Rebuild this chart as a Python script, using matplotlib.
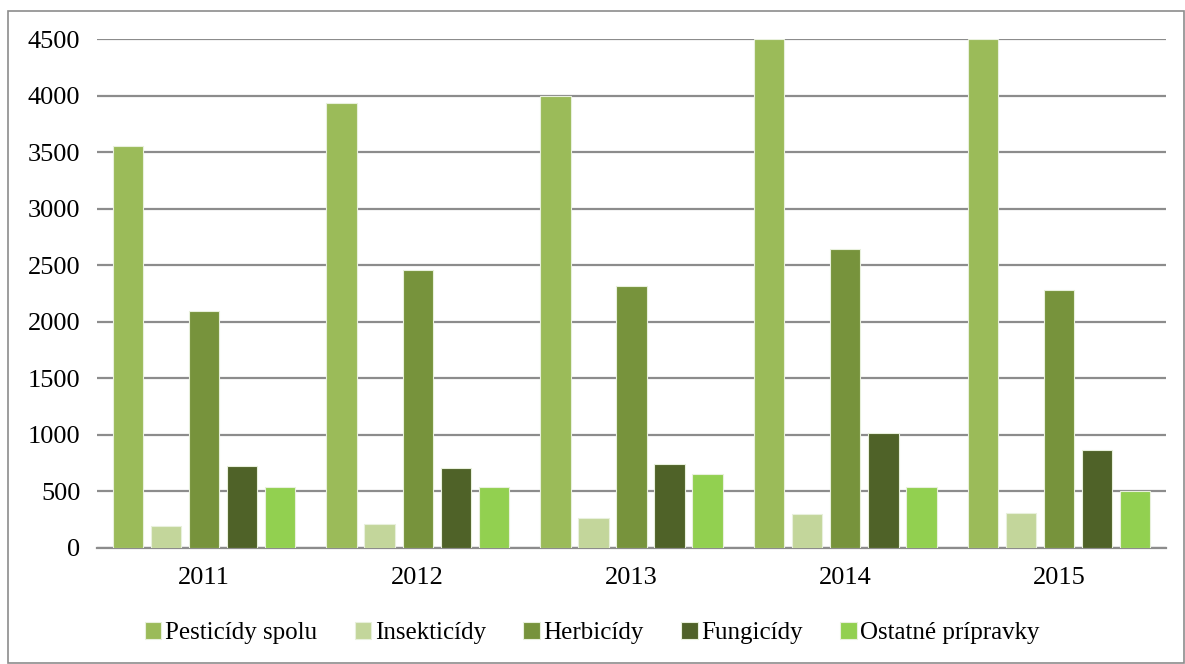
import numpy as np
from matplotlib import pyplot as plt
from matplotlib.patches import Rectangle

years = ['2011', '2012', '2013', '2014', '2015']
series_names = ['Pesticídy spolu', 'Insekticídy', 'Herbicídy', 'Fungicídy', 'Ostatné prípravky']
pesticidy = [3555, 3930, 4000, 4500, 4500]
insekticidy = [195, 212, 265, 300, 310]
herbicidy = [2095, 2458, 2316, 2643, 2281]
fungicidy = [725, 707, 743, 1017, 866]
ostatne = [540, 540, 654, 540, 504]
colors = ['#9BBB59', '#C3D69B', '#77933C', '#4F6228', '#92D050']

plt.rcParams['font.family'] = ['Liberation Serif', 'DejaVu Serif']

fig = plt.figure(figsize=(11.85, 6.64), dpi=100)
ax = fig.add_axes([97 / 1185, 1 - 548 / 664, (1166 - 97) / 1185, (548 - 39) / 664])

x = np.arange(len(years))
step = 0.178
width = 0.142
all_series = [pesticidy, insekticidy, herbicidy, fungicidy, ostatne]
for i, (vals, name, c) in enumerate(zip(all_series, series_names, colors)):
    ax.bar(x + (i - 2) * step, vals, width, color=c, label=name,
           edgecolor='#e8f0dc', linewidth=0.8, zorder=3)

ax.set_xlim(-0.5, len(years) - 0.5)
ax.set_ylim(0, 4500)
ax.set_yticks(range(0, 4501, 500))
ax.set_xticks(x)
ax.set_xticklabels(years)
ax.yaxis.grid(True, color='#8c8c8c', linewidth=1.6, zorder=0)
ax.set_axisbelow(True)
for s in ['left', 'right', 'top']:
    ax.spines[s].set_visible(False)
ax.spines['bottom'].set_color('#8c8c8c')
ax.spines['bottom'].set_linewidth(1.6)
ax.tick_params(axis='both', length=0, labelsize=19)
ax.tick_params(axis='y', pad=12)
ax.tick_params(axis='x', pad=14)

fig.legend(loc='center', bbox_to_anchor=(0.5, 1 - 633 / 664), ncol=5, frameon=False,
           fontsize=18, handlelength=0.65, handleheight=0.65, handletextpad=0.15,
           columnspacing=1.5)

fig.patches.append(Rectangle((8 / 1185, 0.002), 1 - 8 / 1185 - 0.001, 1 - 11 / 664 - 0.002,
                             transform=fig.transFigure, fill=False,
                             edgecolor='#8c8c8c', linewidth=1.2))

plt.savefig('out.png', dpi=100, facecolor='white')
